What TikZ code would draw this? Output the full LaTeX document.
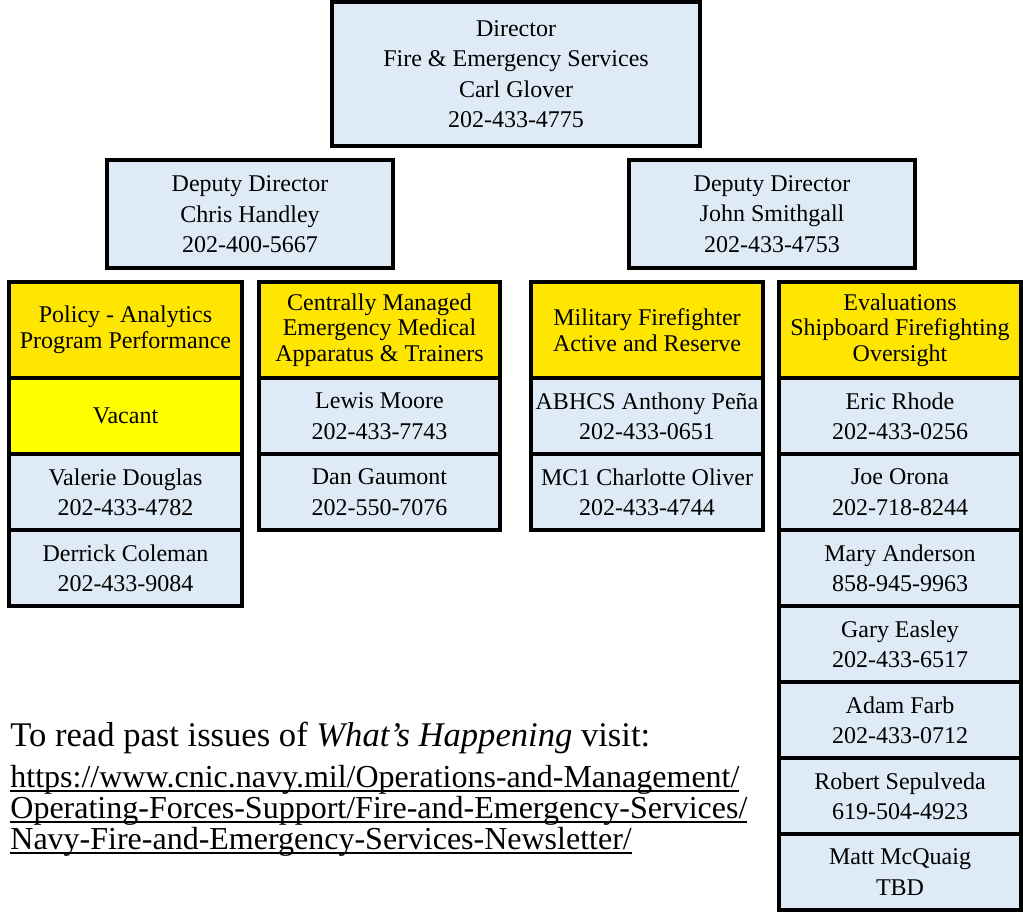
\documentclass[tikz,border=0pt]{standalone}
\usepackage{fontspec}
\setmainfont{Liberation Serif}
\usepackage{tikz}
\definecolor{cellblue}{HTML}{DEEAF6}
\definecolor{headyellow}{HTML}{FFE600}
\definecolor{vacantyellow}{HTML}{FFFF00}
\tikzset{
    box/.style = {draw, rectangle, line width=2pt, fill=cellblue,
        align=center, inner sep=0pt,
        font=\fontsize{12}{15.2}\selectfont},
    deputy/.style = {box, minimum width=143pt, minimum height=54pt},
    head/.style = {box, fill=headyellow, minimum height=48pt,
        font=\fontsize{12}{12.8}\selectfont},
    cell/.style = {box, minimum height=38pt},
    polcol/.style = {minimum width=116.5pt},
    medcol/.style = {minimum width=120.5pt},
    milcol/.style = {minimum width=116pt},
    evalcol/.style = {minimum width=121pt},
    note/.style = {inner sep=0pt, anchor=base west,
        font=\fontsize{16}{15.5}\selectfont}
}
\newsavebox{\linkbox}
\newcommand{\linkline}[1]{\sbox{\linkbox}{#1}\rlap{\rule[-1.8pt]{\wd\linkbox}{0.8pt}}\usebox{\linkbox}}

\begin{document}
\begin{tikzpicture}[x=0.5pt, y=-0.5pt]
    \useasboundingbox (0,0) rectangle (1023,913);
    % top of the chart
    \node[box, minimum width=184pt, minimum height=72pt] (dir) at (516,74)
        {Director\\Fire \& Emergency Services\\Carl Glover\\202-433-4775};
    \node[deputy] (depL) at (250,214.5) {Deputy Director\\Chris Handley\\202-400-5667};
    \node[deputy] (depR) at (772,214) {Deputy Director\\John Smithgall\\202-433-4753};
    % policy column
    \node[head, polcol] (pol) at (125.5,330) {Policy - Analytics\\Program Performance};
    \node[cell, polcol, fill=vacantyellow] (polA) at (125.5,416) {Vacant};
    \node[cell, polcol] (polB) at (125.5,492) {Valerie Douglas\\202-433-4782};
    \node[cell, polcol] (polC) at (125.5,568) {Derrick Coleman\\202-433-9084};
    % medical column
    \node[head, medcol] (med) at (379.5,330) {Centrally Managed\\Emergency Medical\\Apparatus \& Trainers};
    \node[cell, medcol] (medA) at (379.5,416) {Lewis Moore\\202-433-7743};
    \node[cell, medcol] (medB) at (379.5,492) {Dan Gaumont\\202-550-7076};
    % military column
    \node[head, milcol] (mil) at (647,330) {Military Firefighter\\Active and Reserve};
    \node[cell, milcol] (milA) at (647,416) {ABHCS Anthony Peña\\202-433-0651};
    \node[cell, milcol] (milB) at (647,492) {MC1 Charlotte Oliver\\202-433-4744};
    % evaluations column
    \node[head, evalcol] (eval) at (900,330) {Evaluations\\Shipboard Firefighting\\Oversight};
    \node[cell, evalcol] (evalA) at (900,416) {Eric Rhode\\202-433-0256};
    \node[cell, evalcol] (evalB) at (900,492) {Joe Orona\\202-718-8244};
    \node[cell, evalcol] (evalC) at (900,568) {Mary Anderson\\858-945-9963};
    \node[cell, evalcol] (evalD) at (900,644) {Gary Easley\\202-433-6517};
    \node[cell, evalcol] (evalE) at (900,720) {Adam Farb\\202-433-0712};
    \node[cell, evalcol] (evalF) at (900,796) {Robert Sepulveda\\619-504-4923};
    \node[cell, evalcol] (evalG) at (900,872) {Matt McQuaig\\TBD};
    % newsletter note
    \node[note, font=\fontsize{17.3}{18}\selectfont] (intro) at (10,747) {To read past issues of \textit{What’s Happening} visit:};
    \node[note] (urlA) at (10,788) {\linkline{https://www.cnic.navy.mil/Operations-and-Management/}};
    \node[note] (urlB) at (10,819) {\linkline{Operating-Forces-Support/Fire-and-Emergency-Services/}};
    \node[note] (urlC) at (10,850) {\linkline{Navy-Fire-and-Emergency-Services-Newsletter/}};
\end{tikzpicture}
\end{document}
